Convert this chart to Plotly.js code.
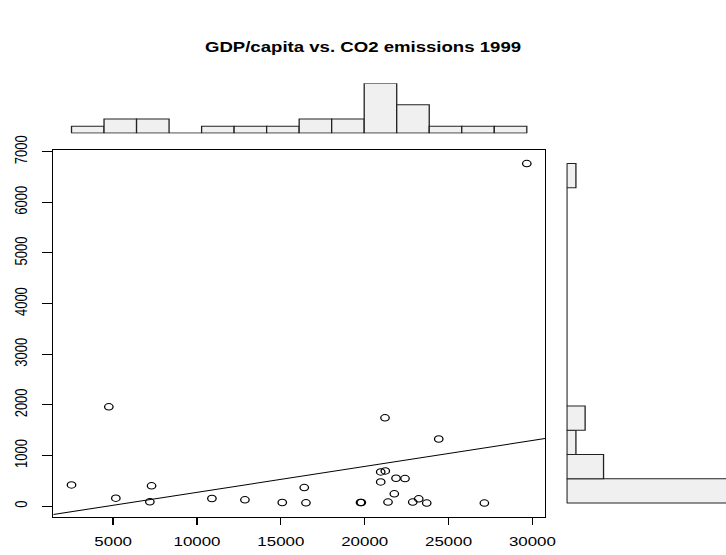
<!DOCTYPE html>
<html><head><meta charset="utf-8">
<script src="https://cdn.plot.ly/plotly-3.0.1.min.js"></script>
<style>
html,body{margin:0;padding:0;background:#fff;overflow:hidden}
#wrap{width:726px;height:555px;overflow:hidden;position:relative}
#chart{width:558px;height:555px;transform:scaleX(1.3011);transform-origin:0 0}
</style>
</head><body><div id="wrap"><div id="chart"></div></div>
<script>
// GDP per capita (x) and CO2 emissions (y), 1999
const gdpPerCapita = [29666, 4743, 21211, 24415, 2518, 7291, 5161, 7190, 10889, 12858,
  15084, 16396, 16498, 19750, 19800, 20955, 21229, 20955, 21868, 22404,
  21766, 21390, 22864, 23222, 23699, 27136];
const co2Emissions = [6764, 1960, 1744, 1325, 419, 400, 157, 85, 150, 124,
  71, 366, 65, 71, 71, 675, 695, 478, 550, 543,
  242, 79, 79, 144, 59, 59];
const xTickVals = [5000, 10000, 15000, 20000, 25000, 30000];
const yTickVals = [0, 1000, 2000, 3000, 4000, 5000, 6000, 7000];
const nBins = 14;
const titleText = 'GDP/capita vs. CO2 emissions 1999';

function histo(v, n) {
  const mn = Math.min(...v), mx = Math.max(...v), size = (mx - mn) / n;
  const counts = new Array(n).fill(0);
  v.forEach(a => { counts[Math.min(n - 1, Math.floor((a - mn) / size))]++; });
  const centers = counts.map((c, i) => mn + size * (i + 0.5));
  return {mn, mx, size, counts, centers};
}
function extRange(v) {
  const mn = Math.min(...v), mx = Math.max(...v), e = 0.04 * (mx - mn);
  return [mn - e, mx + e];
}
const hx = histo(gdpPerCapita, nBins);
const hy = histo(co2Emissions, nBins);
const xRange = extRange(gdpPerCapita);
const yRange = extRange(co2Emissions);

// least squares fit
const n = gdpPerCapita.length;
const mxv = gdpPerCapita.reduce((a, b) => a + b, 0) / n;
const myv = co2Emissions.reduce((a, b) => a + b, 0) / n;
let sxy = 0, sxx = 0;
for (let i = 0; i < n; i++) {
  sxy += (gdpPerCapita[i] - mxv) * (co2Emissions[i] - myv);
  sxx += (gdpPerCapita[i] - mxv) ** 2;
}
const slope = sxy / sxx, icpt = myv - slope * mxv;

const W = 726, H = 555;
const fx = p => p / W, fy = p => 1 - p / H;
const barFill = '#f0f0f0', barLine = '#222222';
const font = {family: '"Liberation Sans", Arial, Helvetica, sans-serif', color: '#000'};

const traces = [
  {type: 'scatter', mode: 'markers', x: gdpPerCapita, y: co2Emissions, xaxis: 'x', yaxis: 'y',
   marker: {symbol: 'circle-open', size: 6.5, color: '#000', line: {width: 1, color: '#000'}}, hoverinfo: 'x+y'},
  {type: 'scatter', mode: 'lines', x: xRange, y: xRange.map(v => icpt + slope * v), xaxis: 'x', yaxis: 'y',
   line: {color: '#000', width: 1}},
  {type: 'bar', x: hx.centers, y: hx.counts, width: hx.size, xaxis: 'x2', yaxis: 'y2', cliponaxis: false,
   marker: {color: barFill, line: {color: barLine, width: 1}}},
  {type: 'scatter', mode: 'lines', x: [hx.mn, hx.mx], y: [0, 0], xaxis: 'x2', yaxis: 'y2', cliponaxis: false,
   line: {color: barLine, width: 1}},
  {type: 'bar', orientation: 'h', y: hy.centers, x: hy.counts, width: hy.size, xaxis: 'x3', yaxis: 'y3', cliponaxis: false,
   marker: {color: barFill, line: {color: barLine, width: 1}}},
  {type: 'scatter', mode: 'lines', x: [0, 0], y: [hy.mn, hy.mx], xaxis: 'x3', yaxis: 'y3', cliponaxis: false,
   line: {color: barLine, width: 1}}
];

const mainX = [fx(53.3), fx(545)], mainY = [fy(516.7), fy(150)];
const layout = {
  width: 558, height: 555,
  margin: {l: 0, r: 0, t: 0, b: 0},
  paper_bgcolor: '#fff', plot_bgcolor: 'rgba(0,0,0,0)',
  showlegend: false, font: font,
  title: {text: '<b>' + titleText + '</b>', x: 0.5, xref: 'container', y: fy(47), yref: 'container',
          xanchor: 'center', yanchor: 'middle', font: Object.assign({}, font, {size: 14.3})},
  xaxis: {domain: mainX, range: xRange, anchor: 'y', tickvals: xTickVals, ticktext: xTickVals.map(String),
          ticks: 'outside', ticklen: 7, tickwidth: 1, tickcolor: '#000', showline: true, mirror: true,
          linecolor: '#000', linewidth: 1, showgrid: false, zeroline: false, tickfont: Object.assign({}, font, {size: 13}),
          ticklabelstandoff: 6},
  yaxis: {domain: mainY, range: yRange, anchor: 'x', tickvals: yTickVals, ticktext: yTickVals.map(String),
          ticks: 'outside', ticklen: 8, tickwidth: 1, tickcolor: '#000', showline: true, mirror: true,
          linecolor: '#000', linewidth: 1, showgrid: false, zeroline: false, tickangle: -90,
          tickfont: Object.assign({}, font, {size: 13}), ticklabelstandoff: 6},
  xaxis2: {domain: mainX, range: xRange, anchor: 'y2', visible: false},
  yaxis2: {domain: [fy(133.3), fy(83.3)], range: [0, Math.max(...hx.counts)], anchor: 'x2', visible: false},
  xaxis3: {domain: [fx(566.7), 1], range: [0, 17.3], anchor: 'y3', visible: false},
  yaxis3: {domain: mainY, range: yRange, anchor: 'x3', visible: false}
};
Plotly.newPlot('chart', traces, layout, {displayModeBar: false, staticPlot: true});
</script>
</body></html>
